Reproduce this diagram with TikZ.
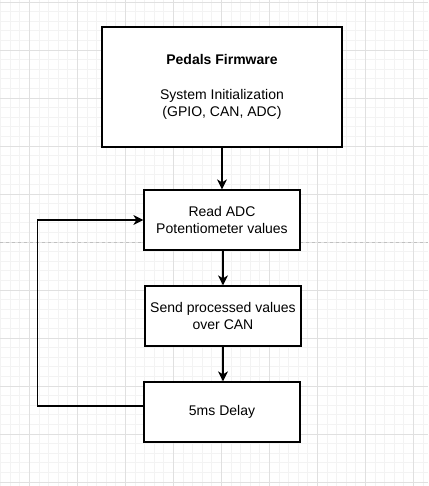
\documentclass[tikz,border=0pt]{standalone}
\usepackage{fontspec}
\setmainfont{Liberation Sans}
\usetikzlibrary{arrows.meta}
\definecolor{minorgrid}{HTML}{F3F3F3}
\definecolor{majorgrid}{HTML}{E0E0E0}
\definecolor{pagebreak}{HTML}{C0C0C0}
\tikzset{
  box/.style={draw=black, line width=1.3pt, fill=white, rectangle, align=center,
    inner sep=0pt, font=\fontsize{14}{17.3}\selectfont},
  arr/.style={draw=black, line width=1.3pt, -{Stealth[length=10pt,width=10pt,inset=3pt]}},
  link/.style={draw=black, line width=1.3pt}
}
\begin{document}
\begin{tikzpicture}[x=1pt,y=-1pt]
\useasboundingbox (0,0) rectangle (428,486);
\fill[white] (0,0) rectangle (428,486);
% minor grid
\foreach \i in {0,...,44} {
  \draw[minorgrid, line width=0.8pt] ({0.5+9.6*\i},0) -- ({0.5+9.6*\i},486);
}
\foreach \i in {0,...,50} {
  \draw[minorgrid, line width=0.8pt] (0,{2+9.6*\i}) -- (428,{2+9.6*\i});
}
% major grid
\foreach \i in {0,...,8} {
  \draw[majorgrid, line width=0.8pt] ({29.3+48*\i},0) -- ({29.3+48*\i},486);
}
\foreach \i in {0,...,10} {
  \draw[majorgrid, line width=0.8pt] (0,{2+48*\i}) -- (428,{2+48*\i});
}
% page break line
\draw[pagebreak, line width=0.8pt, dash pattern=on 3pt off 3pt] (0,242) -- (428,242);

\node[box, minimum width=240pt, minimum height=120pt] (b1) at (222,87)
  {\textbf{Pedals Firmware}\\[17.3pt]System Initialization\\(GPIO, CAN, ADC)};
\node[box, minimum width=156pt, minimum height=60pt] (b2) at (222,220)
  {Read ADC\\Potentiometer values};
\node[box, minimum width=156pt, minimum height=60pt] (b3) at (223,316)
  {Send processed values\\over CAN};
\node[box, minimum width=156pt, minimum height=60pt] (b4) at (222,412)
  {5ms Delay};
\coordinate (lx) at (37.3,220);

\draw[arr] (b1.south) -- (b2.north);
\draw[arr] (b2.south -| b3.north) -- (b3.north);
\draw[arr] (b3.south) -- (b3.south |- b4.north);
\draw[arr] ([yshift=6pt]b4.west) -| (lx) -- (b2.west);
\end{tikzpicture}
\end{document}
